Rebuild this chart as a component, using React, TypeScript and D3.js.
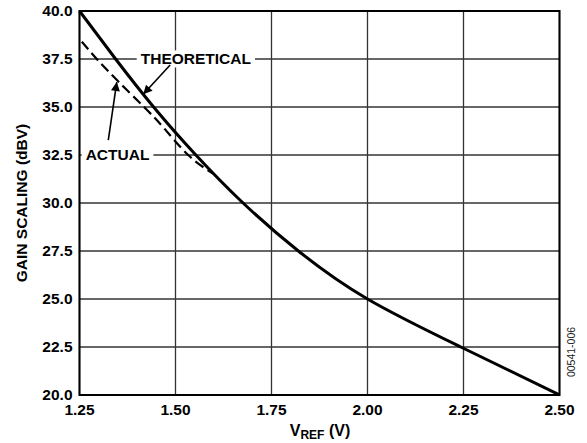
import * as d3 from 'd3';
import {useEffect, useRef} from 'react';

const theoVref = [1.25, 1.344, 1.443, 1.553, 1.676, 1.82, 2.0, 2.243, 2.5];
const theoGain = [40.0, 37.5, 35.0, 32.5, 30.0, 27.5, 25.0, 22.5, 20.0];

// actual (dashed) curve, only visible at the low end
const actVref = [1.256, 1.295, 1.35, 1.418, 1.47, 1.533, 1.60];
const actGain = [38.4, 37.5, 36.35, 35.0, 33.9, 32.5, 31.5];

const xTicks = [1.25, 1.5, 1.75, 2.0, 2.25, 2.5];
const yTicks = [20, 22.5, 25, 27.5, 30, 32.5, 35, 37.5, 40];

const font = 'Arial, "Liberation Sans", Helvetica, sans-serif';

export default function App() {
  const svgRef = useRef<SVGSVGElement>(null);

  const width = 587;
  const height = 443;
  const margin = {top: 11, right: 27.5, bottom: 48, left: 79.5};

  useEffect(() => {
    const svg = d3.select(svgRef.current);
    svg.selectAll('*').remove();

    const x = d3.scaleLinear().domain([1.25, 2.5]).range([margin.left, width - margin.right]);
    const y = d3.scaleLinear().domain([20, 40]).range([height - margin.bottom, margin.top]);

    svg.append('rect').attr('width', width).attr('height', height).attr('fill', '#fff');

    const defs = svg.append('defs');
    defs.append('marker')
      .attr('id', 'arrow')
      .attr('viewBox', '0 0 10 10')
      .attr('refX', 10).attr('refY', 5)
      .attr('markerWidth', 13).attr('markerHeight', 9)
      .attr('markerUnits', 'userSpaceOnUse')
      .attr('orient', 'auto')
      .append('path').attr('d', 'M0,0 L10,5 L0,10 z').attr('fill', '#000');

    // grid
    const grid = svg.append('g');
    grid.selectAll('.vx').data(xTicks).enter().append('line')
      .attr('x1', d => x(d)).attr('x2', d => x(d))
      .attr('y1', y(20)).attr('y2', y(40))
      .attr('stroke', '#333').attr('stroke-width', 1.3);
    grid.selectAll('.hy').data(yTicks).enter().append('line')
      .attr('x1', x(1.25)).attr('x2', x(2.5))
      .attr('y1', d => y(d)).attr('y2', d => y(d))
      .attr('stroke', '#333').attr('stroke-width', 1.3);

    // tick labels
    svg.append('g').selectAll('text').data(xTicks).enter().append('text')
      .attr('x', d => x(d)).attr('y', y(20) + 19.5)
      .attr('text-anchor', 'middle')
      .attr('font-family', font).attr('font-weight', 'bold').attr('font-size', 15.5)
      .text(d => d.toFixed(2));
    svg.append('g').selectAll('text').data(yTicks).enter().append('text')
      .attr('x', x(1.25) - 7).attr('y', d => y(d)).attr('dy', '0.35em')
      .attr('text-anchor', 'end')
      .attr('font-family', font).attr('font-weight', 'bold').attr('font-size', 15.5)
      .text(d => d.toFixed(1));

    // axis titles
    const xt = svg.append('text')
      .attr('x', 320).attr('y', 436)
      .attr('text-anchor', 'middle')
      .attr('font-family', font).attr('font-weight', 'bold').attr('font-size', 16);
    xt.append('tspan').text('V');
    xt.append('tspan').attr('font-size', 12).attr('dy', 3).text('REF');
    xt.append('tspan').attr('dy', -3).text(' (V)');

    svg.append('text')
      .attr('transform', `translate(27, ${(y(20) + y(40)) / 2}) rotate(-90)`)
      .attr('text-anchor', 'middle')
      .attr('font-family', font).attr('font-weight', 'bold').attr('font-size', 15.5)
      .text('GAIN SCALING (dBV)');

    svg.append('text')
      .attr('transform', `translate(575, 352) rotate(-90)`)
      .attr('text-anchor', 'middle')
      .attr('font-family', font).attr('font-size', 10.5).attr('fill', '#222')
      .text('00541-006');

    // curves
    const line = d3.line<[number, number]>()
      .x(d => x(d[0])).y(d => y(d[1]))
      .curve(d3.curveNatural);

    svg.append('path')
      .datum(actVref.map((v, i) => [v, actGain[i]] as [number, number]))
      .attr('d', line)
      .attr('fill', 'none').attr('stroke', '#000')
      .attr('stroke-width', 2.2).attr('stroke-dasharray', '10,5');

    svg.append('path')
      .datum(theoVref.map((v, i) => [v, theoGain[i]] as [number, number]))
      .attr('d', line)
      .attr('fill', 'none').attr('stroke', '#000')
      .attr('stroke-width', 3);

    // annotations
    const label = (txt: string, cx: number, cy: number) => {
      const t = svg.append('text')
        .attr('x', x(cx)).attr('y', y(cy)).attr('dy', '0.35em')
        .attr('text-anchor', 'middle')
        .attr('font-family', font).attr('font-weight', 'bold').attr('font-size', 15.5)
        .text(txt);
      const bb = (t.node() as SVGTextElement).getBBox();
      svg.insert('rect', () => t.node())
        .attr('x', bb.x - 4).attr('y', bb.y).attr('width', bb.width + 8).attr('height', bb.height)
        .attr('fill', '#fff');
    };
    label('THEORETICAL', 1.553, 37.5);
    label('ACTUAL', 1.349, 32.5);

    const arrow = (a: [number, number], b: [number, number]) => {
      svg.append('line')
        .attr('x1', x(a[0])).attr('y1', y(a[1]))
        .attr('x2', x(b[0])).attr('y2', y(b[1]))
        .attr('stroke', '#000').attr('stroke-width', 1.6)
        .attr('marker-end', 'url(#arrow)');
    };
    arrow([1.486, 37.19], [1.416, 35.66]);
    arrow([1.325, 33.28], [1.347, 36.3]);

    // frame
    svg.append('rect')
      .attr('x', x(1.25)).attr('y', y(40))
      .attr('width', x(2.5) - x(1.25)).attr('height', y(20) - y(40))
      .attr('fill', 'none').attr('stroke', '#000').attr('stroke-width', 2);
  }, []);

  return (
    <svg ref={svgRef} width={width} height={height}
      style={{position: 'absolute', left: 0, top: 0}} />
  );
}
